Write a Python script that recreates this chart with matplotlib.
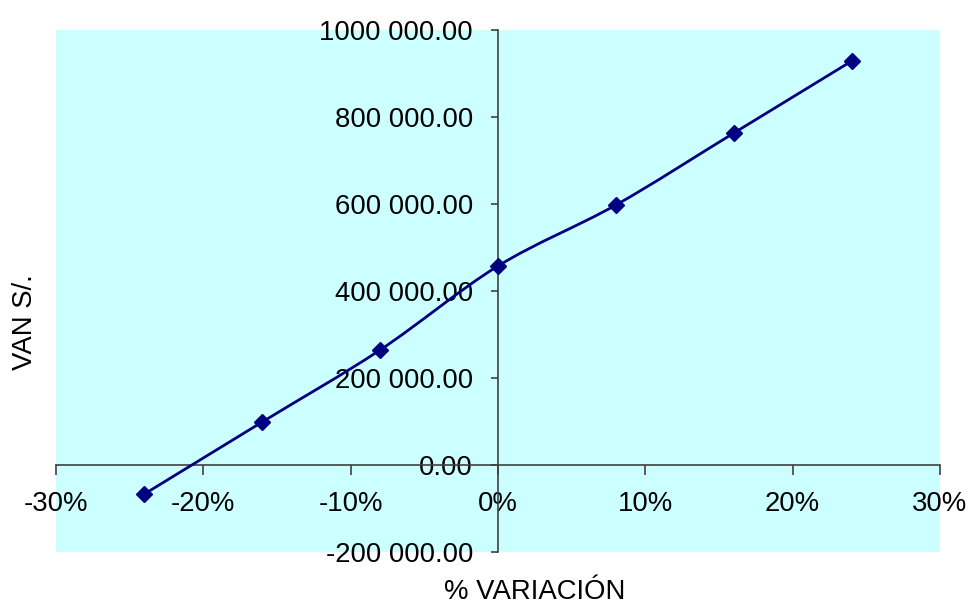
import matplotlib
matplotlib.use("Agg")
import matplotlib.pyplot as plt
from matplotlib.path import Path
from matplotlib.patches import PathPatch
from matplotlib.ticker import FuncFormatter
import numpy as np

# Sensitivity data: % variation vs. VAN (S/.)
variacion = [-0.24, -0.16, -0.08, 0.0, 0.08, 0.16, 0.24]
van = [-66700, 99000, 264500, 457500, 597700, 763000, 928500]

x_ticks = [-0.3, -0.2, -0.1, 0.0, 0.1, 0.2, 0.3]
y_ticks = [-200000, 0, 200000, 400000, 600000, 800000, 1000000]

line_color = "#000080"
bg_color = "#CCFFFF"
axis_color = "#404040"
fs = 19.8

plt.rcParams["font.family"] = ["Liberation Sans", "DejaVu Sans"]

fig = plt.figure(figsize=(9.72, 6.06), dpi=100)
ax = fig.add_axes([56 / 972, 54 / 606, 884 / 972, 522 / 606])
ax.set_facecolor(bg_color)
ax.set_xlim(-0.3, 0.3)
ax.set_ylim(-200000, 1000000)


def smooth_path(xs, ys):
    """Cubic Bezier path through the points (Catmull-Rom style tangents)."""
    pts = np.column_stack([xs, ys]).astype(float)
    n = len(pts)
    verts = [pts[0]]
    codes = [Path.MOVETO]
    for i in range(n - 1):
        p0 = pts[i - 1] if i > 0 else pts[i]
        p1 = pts[i]
        p2 = pts[i + 1]
        p3 = pts[i + 2] if i + 2 < n else pts[i + 1]
        c1 = p1 + (p2 - p0) / 6.0
        c2 = p2 - (p3 - p1) / 6.0
        verts += [c1, c2, p2]
        codes += [Path.CURVE4] * 3
    return Path(verts, codes)


ax.add_patch(PathPatch(smooth_path(variacion, van), facecolor="none",
                       edgecolor=line_color, linewidth=2.0, zorder=3))
ax.plot(variacion, van, linestyle="none", marker="D", markersize=8.5,
        color=line_color, zorder=4, clip_on=False)

# Axes crossing at the origin
for side in ("top", "right"):
    ax.spines[side].set_visible(False)
ax.spines["left"].set_position(("data", 0))
ax.spines["bottom"].set_position(("data", 0))
for side in ("left", "bottom"):
    ax.spines[side].set_color(axis_color)
    ax.spines[side].set_linewidth(1.2)

ax.set_xticks(x_ticks)
ax.set_yticks(y_ticks)


def fmt_van(v, pos=None):
    if v == 0:
        return "0.00"
    sign = "-" if v < 0 else ""
    v = abs(int(round(v)))
    thousands, rest = divmod(v, 1000)
    return f"{sign}{thousands} {rest:03d}.00"


ax.yaxis.set_major_formatter(FuncFormatter(fmt_van))
ax.xaxis.set_major_formatter(FuncFormatter(lambda v, p: f"{v * 100:.0f}%"))

ax.tick_params(axis="y", direction="out", length=5, width=1.2,
               color=axis_color, labelsize=fs, pad=13)
ax.tick_params(axis="x", direction="out", length=7, width=1.2,
               color=axis_color, labelsize=fs, pad=12)
for lbl in ax.get_xticklabels() + ax.get_yticklabels():
    lbl.set_clip_on(False)

fig.text(25 / 972, 1 - 322 / 606, "VAN S/.", rotation=90, ha="center",
         va="center", fontsize=fs)
fig.text(535 / 972, 1 - 592 / 606, "% VARIACIÓN", ha="center", va="center",
         fontsize=fs)

fig.savefig("out.png", dpi=100, facecolor="white")
